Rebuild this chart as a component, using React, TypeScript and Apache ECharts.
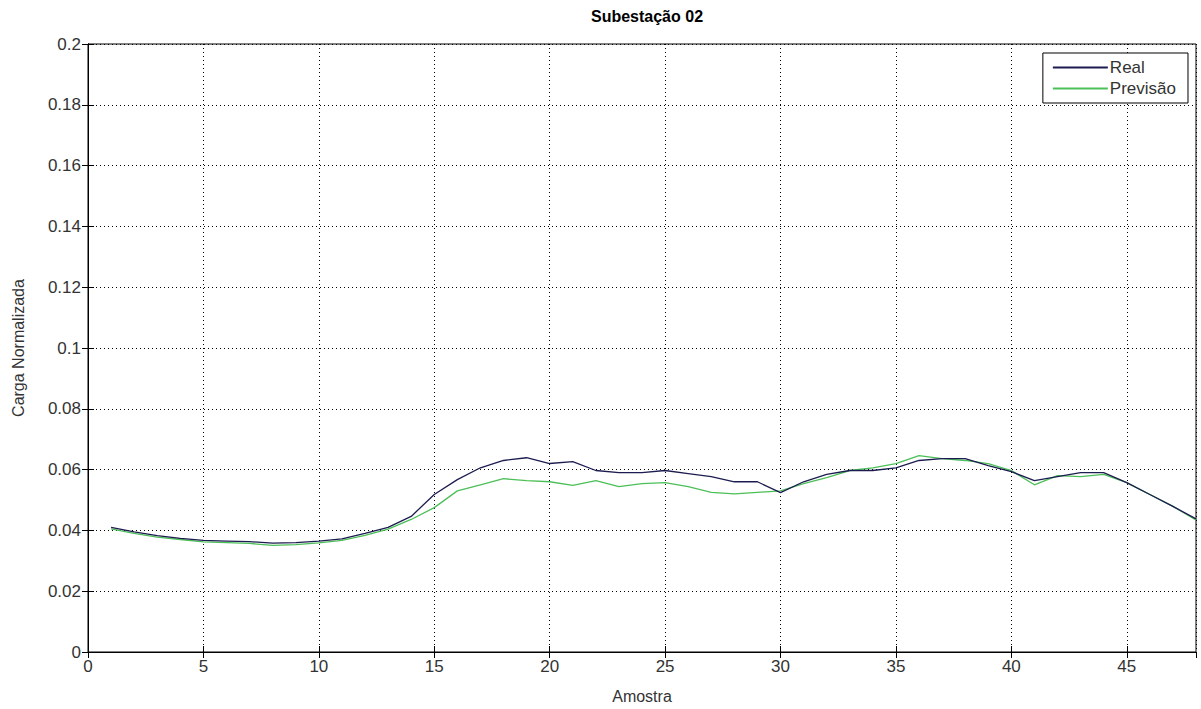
import React, { useEffect, useRef } from "react";
import * as echarts from "echarts";

const samples = [1,2,3,4,5,6,7,8,9,10,11,12,13,14,15,16,17,18,19,20,21,22,23,24,25,26,27,28,29,30,31,32,33,34,35,36,37,38,39,40,41,42,43,44,45,46,47,48];
const realValues = [0.041,0.0395,0.0383,0.0374,0.0367,0.0365,0.0363,0.0358,0.036,0.0365,0.0372,0.039,0.041,0.0446,0.0518,0.0567,0.0606,0.063,0.0639,0.062,0.0626,0.0597,0.059,0.059,0.0597,0.0587,0.0577,0.056,0.056,0.0524,0.056,0.0584,0.0597,0.0597,0.0606,0.063,0.0636,0.0636,0.0613,0.0593,0.0564,0.0577,0.059,0.059,0.0557,0.0518,0.0479,0.0438];
const forecastValues = [0.0405,0.039,0.0378,0.037,0.0362,0.036,0.0357,0.0351,0.0353,0.0359,0.0367,0.0384,0.0404,0.0436,0.0475,0.053,0.055,0.057,0.0564,0.056,0.0548,0.0564,0.0544,0.0554,0.0557,0.0544,0.0525,0.052,0.0525,0.053,0.0554,0.0574,0.0597,0.0606,0.062,0.0646,0.0636,0.063,0.062,0.0597,0.055,0.058,0.0577,0.0584,0.0557,0.0518,0.0479,0.0434];
const seriesNames = ["Real", "Previsão"];
const titleText = "Subestação 02";
const xLabel = "Amostra";
const yLabel = "Carga Normalizada";

const FONT = "'Liberation Sans', Arial, sans-serif";
const LABEL_COLOR = "#333";

export default function App() {
  const ref = useRef<HTMLDivElement>(null);
  useEffect(() => {
    if (!ref.current) return;
    const chart = echarts.init(ref.current, null, { renderer: "svg" });
    const realData = samples.map((s, i) => [s, realValues[i]]);
    const fcData = samples.map((s, i) => [s, forecastValues[i]]);
    const gridStyle = { type: [1, 3] as any, color: "#000", width: 1 };
    chart.setOption({
      animation: false,
      backgroundColor: "#fff",
      title: {
        text: titleText,
        left: 642,
        top: 3,
        textAlign: "center",
        textStyle: { fontFamily: FONT, fontSize: 16, fontWeight: "bold", color: "#000" },
      },
      legend: {
        right: 13,
        top: 53,
        orient: "vertical",
        itemWidth: 55,
        itemHeight: 2,
        itemGap: 4,
        padding: [6, 12, 6, 10],
        borderColor: "#000",
        borderWidth: 1,
        borderRadius: 0,
        backgroundColor: "#fff",
        icon: "rect",
        textStyle: { fontFamily: FONT, fontSize: 17, color: LABEL_COLOR, padding: [0, 0, 0, -3] },
        data: seriesNames,
      },
      grid: {
        left: 88,
        top: 44,
        width: 1108,
        height: 609,
        show: true,
        borderColor: "#000",
        borderWidth: 1,
      },
      xAxis: [
        {
          type: "value",
          min: 0,
          max: 48,
          interval: 5,
          name: xLabel,
          nameLocation: "middle",
          nameGap: 36,
          nameTextStyle: { fontFamily: FONT, fontSize: 16, color: LABEL_COLOR },
          axisLine: { lineStyle: { color: "#000" } },
          axisTick: { inside: true, length: 6, lineStyle: { color: "#000" } },
          axisLabel: { fontFamily: FONT, fontSize: 17, color: LABEL_COLOR, margin: 6, showMaxLabel: false },
          splitLine: { show: true, lineStyle: gridStyle },
        },
        {
          type: "value",
          position: "top",
          min: 0,
          max: 48,
          interval: 5,
          axisLine: { show: true, lineStyle: { color: "#000" } },
          axisTick: { inside: true, length: 6, lineStyle: { color: "#000" } },
          axisLabel: { show: false },
          splitLine: { show: false },
        },
      ],
      yAxis: [
        {
          type: "value",
          min: 0,
          max: 0.2,
          interval: 0.02,
          name: yLabel,
          nameLocation: "middle",
          nameGap: 62,
          nameTextStyle: { fontFamily: FONT, fontSize: 16, color: LABEL_COLOR },
          axisLine: { show: true, lineStyle: { color: "#000" } },
          axisTick: { show: true, inside: true, length: 6, lineStyle: { color: "#000" } },
          axisLabel: {
            fontFamily: FONT,
            fontSize: 17,
            color: LABEL_COLOR,
            margin: 7,
            formatter: (v: number) => String(parseFloat(v.toFixed(2))),
          },
          splitLine: { show: true, lineStyle: gridStyle },
        },
        {
          type: "value",
          position: "right",
          min: 0,
          max: 0.2,
          interval: 0.02,
          axisLine: { show: true, lineStyle: { color: "#000" } },
          axisTick: { show: true, inside: true, length: 6, lineStyle: { color: "#000" } },
          axisLabel: { show: false },
          splitLine: { show: false },
        },
      ],
      series: [
        {
          name: seriesNames[0],
          type: "line",
          data: realData,
          showSymbol: false,
          lineStyle: { color: "#1c1c50", width: 1.3 },
          itemStyle: { color: "#1c1c50" },
          z: 3,
        },
        {
          name: seriesNames[1],
          type: "line",
          data: fcData,
          showSymbol: false,
          lineStyle: { color: "#4cbf58", width: 1.3 },
          itemStyle: { color: "#4cbf58" },
          z: 2,
        },
      ],
    });
    return () => chart.dispose();
  }, []);
  return (
    <div
      ref={ref}
      style={{ position: "fixed", left: 0, top: 0, width: 1201, height: 709, background: "#fff" }}
    />
  );
}
